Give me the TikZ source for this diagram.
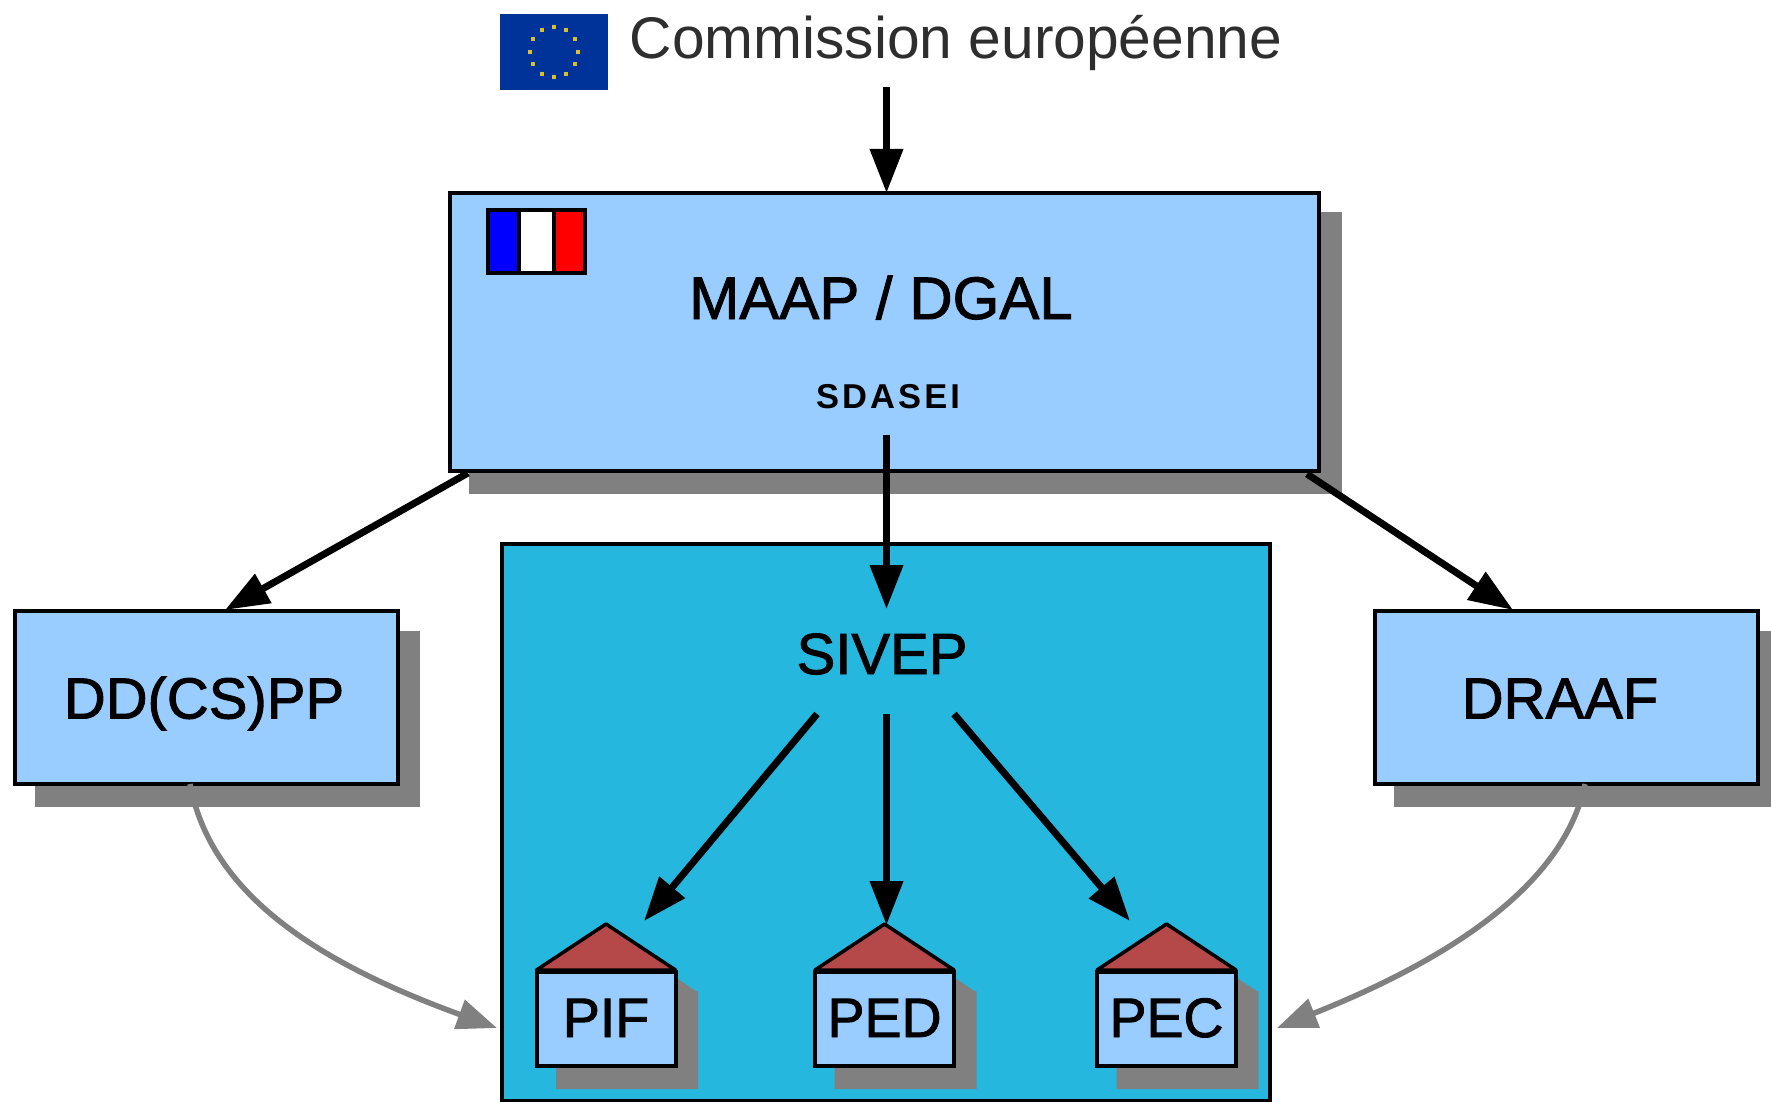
\documentclass[tikz,border=0pt]{standalone}
\usepackage{fontspec}
\setmainfont{Liberation Sans}
\newfontfamily\heavyfont[FakeBold=1.6]{Liberation Sans}
\usetikzlibrary{arrows.meta}
\definecolor{boxblue}{HTML}{99CCFF}
\definecolor{teal2}{HTML}{25B7DD}
\definecolor{shade}{HTML}{808080}
\definecolor{roof}{HTML}{B54848}
\definecolor{eublue}{HTML}{003399}
\definecolor{eustar}{HTML}{D8C030}
\tikzset{
  boxnode/.style={draw=black,line width=4pt,fill=boxblue,inner sep=0pt,outer sep=0pt,text height=42pt,text depth=0pt,font=\heavyfont\fontsize{58}{58}\selectfont},
  housebox/.style={boxnode,minimum width=139pt,minimum height=94pt,text depth=6pt,font=\heavyfont\fontsize{55.5}{55.5}\selectfont},
  roofshape/.style={draw=black,line width=3.5pt,fill=roof,line join=round},
  shadowfill/.style={fill=shade,draw=none},
  mainarrow/.style={draw=black,line width=7pt,-{Triangle[length=44pt,width=32pt]}},
  softarrow/.style={draw=shade,line width=5.5pt,-{Triangle[length=40pt,width=30pt]}},
  labeltext/.style={inner sep=0pt,outer sep=0pt,text height=42pt,text depth=0pt,font=\heavyfont\fontsize{58}{58}\selectfont},
}
\begin{document}
\begin{tikzpicture}[x=1pt,y=-1pt]
\useasboundingbox (0,0) rectangle (1771,1102);
% EU flag and title
\node[fill=eublue,minimum width=108pt,minimum height=76pt,inner sep=0pt,outer sep=0pt] (euflag) at (554,52) {};
\foreach \a in {0,30,...,330}{
  \fill[eustar] ({554+24*cos(\a)-2},{52+25*sin(\a)-2}) rectangle ++(4,4);
}
\node[inner sep=0pt,outer sep=0pt,text height=42pt,text depth=0pt,text=black!82,font=\fontsize{58.7}{58.7}\selectfont] (commission) at (956,38) {Commission européenne};
% shadows
\fill[shadowfill] (469,212) rectangle (1342,494);
\fill[shadowfill] (35,631) rectangle (420,807);
\fill[shadowfill] (1394,631) rectangle (1771,807);
% main boxes
\node[draw=black,line width=4pt,fill=boxblue,minimum width=869pt,minimum height=278pt,inner sep=0pt,outer sep=0pt] (main) at (884.5,332) {};
\node[draw=black,line width=4pt,fill=teal2,minimum width=768pt,minimum height=557pt,inner sep=0pt,outer sep=0pt] (sivepbox) at (886,822.5) {};
\node[boxnode,minimum width=383pt,minimum height=173pt,text width=383pt,align=center] (dd) at (206.5,697.5) {\hspace*{-5pt}DD(CS)PP};
\node[boxnode,minimum width=383pt,minimum height=173pt,text width=383pt,align=center] (draaf) at (1566.5,697.5) {\hspace*{-13pt}DRAAF};
% French flag
\fill[blue] (488,210) rectangle (519,273);
\fill[white] (519,210) rectangle (554,273);
\fill[red] (554,210) rectangle (585,273);
\draw[black,line width=4pt] (488,210) rectangle (585,273) (519,210) -- (519,273) (554,210) -- (554,273);
% labels
\node[labeltext,font=\heavyfont\fontsize{60}{60}\selectfont] (maap) at (881,298) {MAAP / DGAL};
\node[inner sep=0pt,outer sep=0pt,text height=28pt,text depth=0pt,font=\fontsize{34.5}{34.5}\selectfont\bfseries\addfontfeature{LetterSpace=9}] (sdasei) at (888,394) {SDASEI};
\node[labeltext] (sivep) at (882,653) {SIVEP};
% houses
\foreach \c/\t/\n in {606/PIF/pif,884.5/PED/ped,1166.5/PEC/pec}{
  \fill[shadowfill] ({\c+21},945) -- ({\c+90},991) -- ({\c+92},991) -- ({\c+92},1089) -- ({\c-50},1089) -- ({\c-50},1000) -- cycle;
  \draw[roofshape] ({\c-69.5},970) -- (\c,924) -- ({\c+69.5},970) -- cycle;
  \node[housebox] (\n) at (\c,1019) {\t};
}
% connectors
\draw[mainarrow] ([shift={(-69.5,49)}]commission.center) -- ([shift={(2,-139)}]main.center);
\draw[mainarrow] ([shift={(-1.5,41)}]sdasei.center) -- ([shift={(4.5,-44)}]sivep.center);
\draw[mainarrow] ([shift={(-416.5,141)}]main.center) -- ([shift={(18.5,-87.5)}]dd.center);
\draw[mainarrow] ([shift={(422.5,142)}]main.center) -- ([shift={(-53.5,-87.5)}]draaf.center);
\draw[mainarrow] ([shift={(-65,61)}]sivep.center) -- ([shift={(38,-98)}]pif.center);
\draw[mainarrow] ([shift={(4.5,61)}]sivep.center) -- ([shift={(2,-94)}]ped.center);
\draw[mainarrow] ([shift={(72,61)}]sivep.center) -- ([shift={(-36.5,-98)}]pec.center);
\draw[softarrow] ([shift={(-16.5,86.5)}]dd.center) .. controls (210,890) and (310,960) .. ([shift={(-389,205.5)}]sivepbox.center);
\draw[softarrow] ([shift={(18.5,86.5)}]draaf.center) .. controls (1565,880) and (1460,955) .. ([shift={(391,205.5)}]sivepbox.center);
\end{tikzpicture}
\end{document}
